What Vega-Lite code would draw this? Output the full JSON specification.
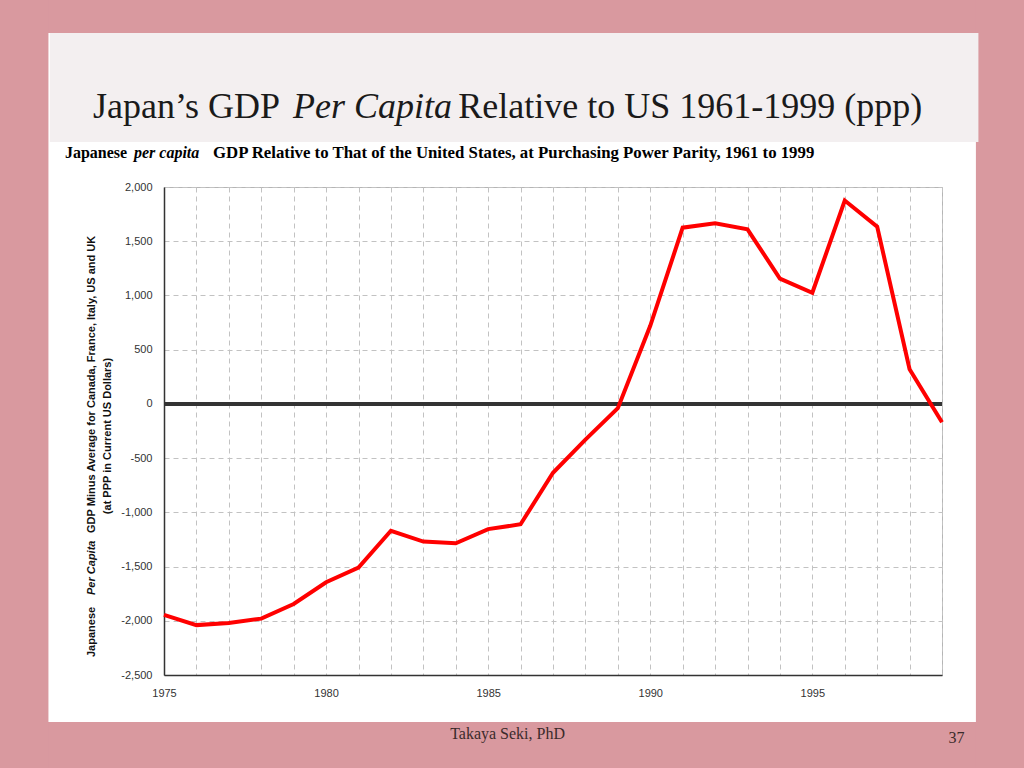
{
  "$schema": "https://vega.github.io/schema/vega-lite/v6.json",
  "width": 778,
  "height": 488,
  "autosize": "none",
  "padding": {"left": 164, "top": 187, "right": 82, "bottom": 93},
  "background": "#ffffff",
  "config": {"view": {"stroke": "#b5b5b5", "strokeWidth": 1}, "font": "Liberation Sans"},
  "resolve": {"axis": {"x": "independent", "y": "independent"}},
  "datasets": {
    "gdp": [
      {"year": 1975, "value": -1945},
      {"year": 1976, "value": -2040},
      {"year": 1977, "value": -2020},
      {"year": 1978, "value": -1980},
      {"year": 1979, "value": -1845},
      {"year": 1980, "value": -1645},
      {"year": 1981, "value": -1510},
      {"year": 1982, "value": -1170},
      {"year": 1983, "value": -1270},
      {"year": 1984, "value": -1285},
      {"year": 1985, "value": -1155},
      {"year": 1986, "value": -1110},
      {"year": 1987, "value": -635},
      {"year": 1988, "value": -330},
      {"year": 1989, "value": -40},
      {"year": 1990, "value": 720},
      {"year": 1991, "value": 1625},
      {"year": 1992, "value": 1665},
      {"year": 1993, "value": 1610},
      {"year": 1994, "value": 1155},
      {"year": 1995, "value": 1025},
      {"year": 1996, "value": 1875},
      {"year": 1997, "value": 1635},
      {"year": 1998, "value": 320},
      {"year": 1999, "value": -170}
    ]
  },
  "layer": [
    {
      "data": {"name": "gdp"},
      "mark": {"type": "line", "color": "#ff0000", "strokeWidth": 0, "opacity": 0},
      "encoding": {
        "x": {
          "field": "year", "type": "quantitative",
          "scale": {"domain": [1975, 1999], "nice": false, "zero": false},
          "axis": {
            "title": null,
            "values": [1975,1976,1977,1978,1979,1980,1981,1982,1983,1984,1985,1986,1987,1988,1989,1990,1991,1992,1993,1994,1995,1996,1997,1998,1999],
            "format": "d",
            "labelExpr": "datum.value % 5 === 0 ? datum.label : ''",
            "labelFlush": false,
            "labelOverlap": false,
            "labelFont": "Liberation Sans",
            "labelFontSize": 11,
            "labelColor": "#333333",
            "labelPadding": 12,
            "ticks": false,
            "domainColor": "#333333",
            "domainWidth": 1.5,
            "grid": true,
            "gridColor": "#c2c2c2",
            "gridDash": [5, 4],
            "gridWidth": 1
          }
        },
        "y": {
          "field": "value", "type": "quantitative",
          "scale": {"domain": [-2500, 2000], "nice": false, "zero": false},
          "axis": {
            "title": null,
            "values": [-2500,-2000,-1500,-1000,-500,0,500,1000,1500,2000],
            "format": ",.0f",
            "labelExpr": "replace(datum.label, '\u2212', '-')",
            "labelFlush": false,
            "labelOverlap": false,
            "labelFont": "Liberation Sans",
            "labelFontSize": 11,
            "labelColor": "#333333",
            "labelPadding": 12,
            "ticks": false,
            "domainColor": "#333333",
            "domainWidth": 1.5,
            "grid": true,
            "gridColor": "#c2c2c2",
            "gridDash": [5, 4],
            "gridWidth": 1
          }
        }
      }
    },
    {
      "data": {"values": [{}]},
      "mark": {"type": "rule", "stroke": "#333333", "strokeWidth": 4},
      "encoding": {
        "y": {"datum": 0, "type": "quantitative", "axis": null}
      }
    },
    {
      "data": {"name": "gdp"},
      "mark": {"type": "line", "color": "#ff0000", "strokeWidth": 4, "strokeJoin": "miter"},
      "encoding": {
        "x": {"field": "year", "type": "quantitative", "axis": null},
        "y": {"field": "value", "type": "quantitative", "axis": null}
      }
    },
    {
      "data": {"values": [{}]},
      "mark": {"type": "rect", "color": "#d9999f"},
      "encoding": {
        "x": {"datum": 1969.5, "type": "quantitative", "axis": null},
        "x2": {"datum": 2002},
        "y": {"datum": 3800, "type": "quantitative", "axis": null},
        "y2": {"datum": 3420}
      }
    },
    {
      "data": {"values": [{}]},
      "mark": {"type": "rect", "color": "#d9999f"},
      "encoding": {
        "x": {"datum": 1969.5, "type": "quantitative", "axis": null},
        "x2": {"datum": 2002},
        "y": {"datum": -2933, "type": "quantitative", "axis": null},
        "y2": {"datum": -3450}
      }
    },
    {
      "data": {"values": [{}]},
      "mark": {"type": "rect", "color": "#d9999f"},
      "encoding": {
        "x": {"datum": 1969.5, "type": "quantitative", "axis": null},
        "x2": {"datum": 1971.435},
        "y": {"datum": 3800, "type": "quantitative", "axis": null},
        "y2": {"datum": -3450}
      }
    },
    {
      "data": {"values": [{}]},
      "mark": {"type": "rect", "color": "#d9999f"},
      "encoding": {
        "x": {"datum": 2000.046, "type": "quantitative", "axis": null},
        "x2": {"datum": 2002},
        "y": {"datum": 3800, "type": "quantitative", "axis": null},
        "y2": {"datum": -3450}
      }
    },
    {
      "data": {"values": [{}]},
      "mark": {"type": "rect", "color": "#f3eff0"},
      "encoding": {
        "x": {"datum": 1971.481, "type": "quantitative", "axis": null},
        "x2": {"datum": 2000.123},
        "y": {"datum": 3420, "type": "quantitative", "axis": null},
        "y2": {"datum": 2415}
      }
    },
    {
      "data": {"values": [{}]},
      "mark": {"type": "text", "text": "Japan’s GDP", "font": "Liberation Serif", "fontSize": 36, "align": "left", "baseline": "alphabetic", "color": "#1a1a1a"},
      "encoding": {"x": {"datum": 1972.81, "type": "quantitative", "axis": null}, "y": {"datum": 2636, "type": "quantitative", "axis": null}}
    },
    {
      "data": {"values": [{}]},
      "mark": {"type": "text", "text": "Per Capita", "font": "Liberation Serif", "fontSize": 36, "fontStyle": "italic", "align": "left", "baseline": "alphabetic", "color": "#1a1a1a"},
      "encoding": {"x": {"datum": 1978.981, "type": "quantitative", "axis": null}, "y": {"datum": 2636, "type": "quantitative", "axis": null}}
    },
    {
      "data": {"values": [{}]},
      "mark": {"type": "text", "text": "Relative to US 1961-1999  (ppp)", "font": "Liberation Serif", "fontSize": 36, "align": "left", "baseline": "alphabetic", "color": "#1a1a1a"},
      "encoding": {"x": {"datum": 1984.08, "type": "quantitative", "axis": null}, "y": {"datum": 2636, "type": "quantitative", "axis": null}}
    },
    {
      "data": {"values": [{}]},
      "mark": {"type": "text", "text": "Japanese", "font": "Liberation Serif", "fontSize": 16, "fontWeight": "bold", "align": "left", "baseline": "alphabetic", "color": "#000000"},
      "encoding": {"x": {"datum": 1971.944, "type": "quantitative", "axis": null}, "y": {"datum": 2267, "type": "quantitative", "axis": null}}
    },
    {
      "data": {"values": [{}]},
      "mark": {"type": "text", "text": "per capita", "font": "Liberation Serif", "fontSize": 16, "fontWeight": "bold", "fontStyle": "italic", "align": "left", "baseline": "alphabetic", "color": "#000000"},
      "encoding": {"x": {"datum": 1974.074, "type": "quantitative", "axis": null}, "y": {"datum": 2267, "type": "quantitative", "axis": null}}
    },
    {
      "data": {"values": [{}]},
      "mark": {"type": "text", "text": "GDP Relative to That of the United States, at Purchasing Power Parity, 1961 to 1999", "font": "Liberation Serif", "fontSize": 16.8, "fontWeight": "bold", "align": "left", "baseline": "alphabetic", "color": "#000000"},
      "encoding": {"x": {"datum": 1976.512, "type": "quantitative", "axis": null}, "y": {"datum": 2267, "type": "quantitative", "axis": null}}
    },
    {
      "data": {"values": [{}]},
      "mark": {"type": "text", "text": "Japanese", "font": "Liberation Sans", "fontSize": 11, "fontWeight": "bold", "angle": 270, "align": "left", "baseline": "alphabetic", "color": "#111111"},
      "encoding": {"x": {"datum": 1972.87, "type": "quantitative", "axis": null}, "y": {"datum": -2334, "type": "quantitative", "axis": null}}
    },
    {
      "data": {"values": [{}]},
      "mark": {"type": "text", "text": "Per Capita", "font": "Liberation Sans", "fontSize": 11, "fontWeight": "bold", "fontStyle": "italic", "angle": 270, "align": "left", "baseline": "alphabetic", "color": "#111111"},
      "encoding": {"x": {"datum": 1972.87, "type": "quantitative", "axis": null}, "y": {"datum": -1762, "type": "quantitative", "axis": null}}
    },
    {
      "data": {"values": [{}]},
      "mark": {"type": "text", "text": "GDP Minus Average for Canada, France, Italy, US and UK", "font": "Liberation Sans", "fontSize": 11, "fontWeight": "bold", "angle": 270, "align": "left", "baseline": "alphabetic", "color": "#111111"},
      "encoding": {"x": {"datum": 1972.87, "type": "quantitative", "axis": null}, "y": {"datum": -1190, "type": "quantitative", "axis": null}}
    },
    {
      "data": {"values": [{}]},
      "mark": {"type": "text", "text": "(at PPP in Current US Dollars)", "font": "Liberation Sans", "fontSize": 11, "fontWeight": "bold", "angle": 270, "align": "center", "baseline": "alphabetic", "color": "#111111"},
      "encoding": {"x": {"datum": 1973.364, "type": "quantitative", "axis": null}, "y": {"datum": -296, "type": "quantitative", "axis": null}}
    },
    {
      "data": {"values": [{}]},
      "mark": {"type": "text", "text": "Takaya Seki, PhD", "font": "Liberation Serif", "fontSize": 16, "align": "left", "baseline": "alphabetic", "color": "#3b2b2b"},
      "encoding": {"x": {"datum": 1983.827, "type": "quantitative", "axis": null}, "y": {"datum": -3090, "type": "quantitative", "axis": null}}
    },
    {
      "data": {"values": [{}]},
      "mark": {"type": "text", "text": "37", "font": "Liberation Serif", "fontSize": 16, "align": "left", "baseline": "alphabetic", "color": "#3b2b2b"},
      "encoding": {"x": {"datum": 1999.198, "type": "quantitative", "axis": null}, "y": {"datum": -3127, "type": "quantitative", "axis": null}}
    }
  ]
}
